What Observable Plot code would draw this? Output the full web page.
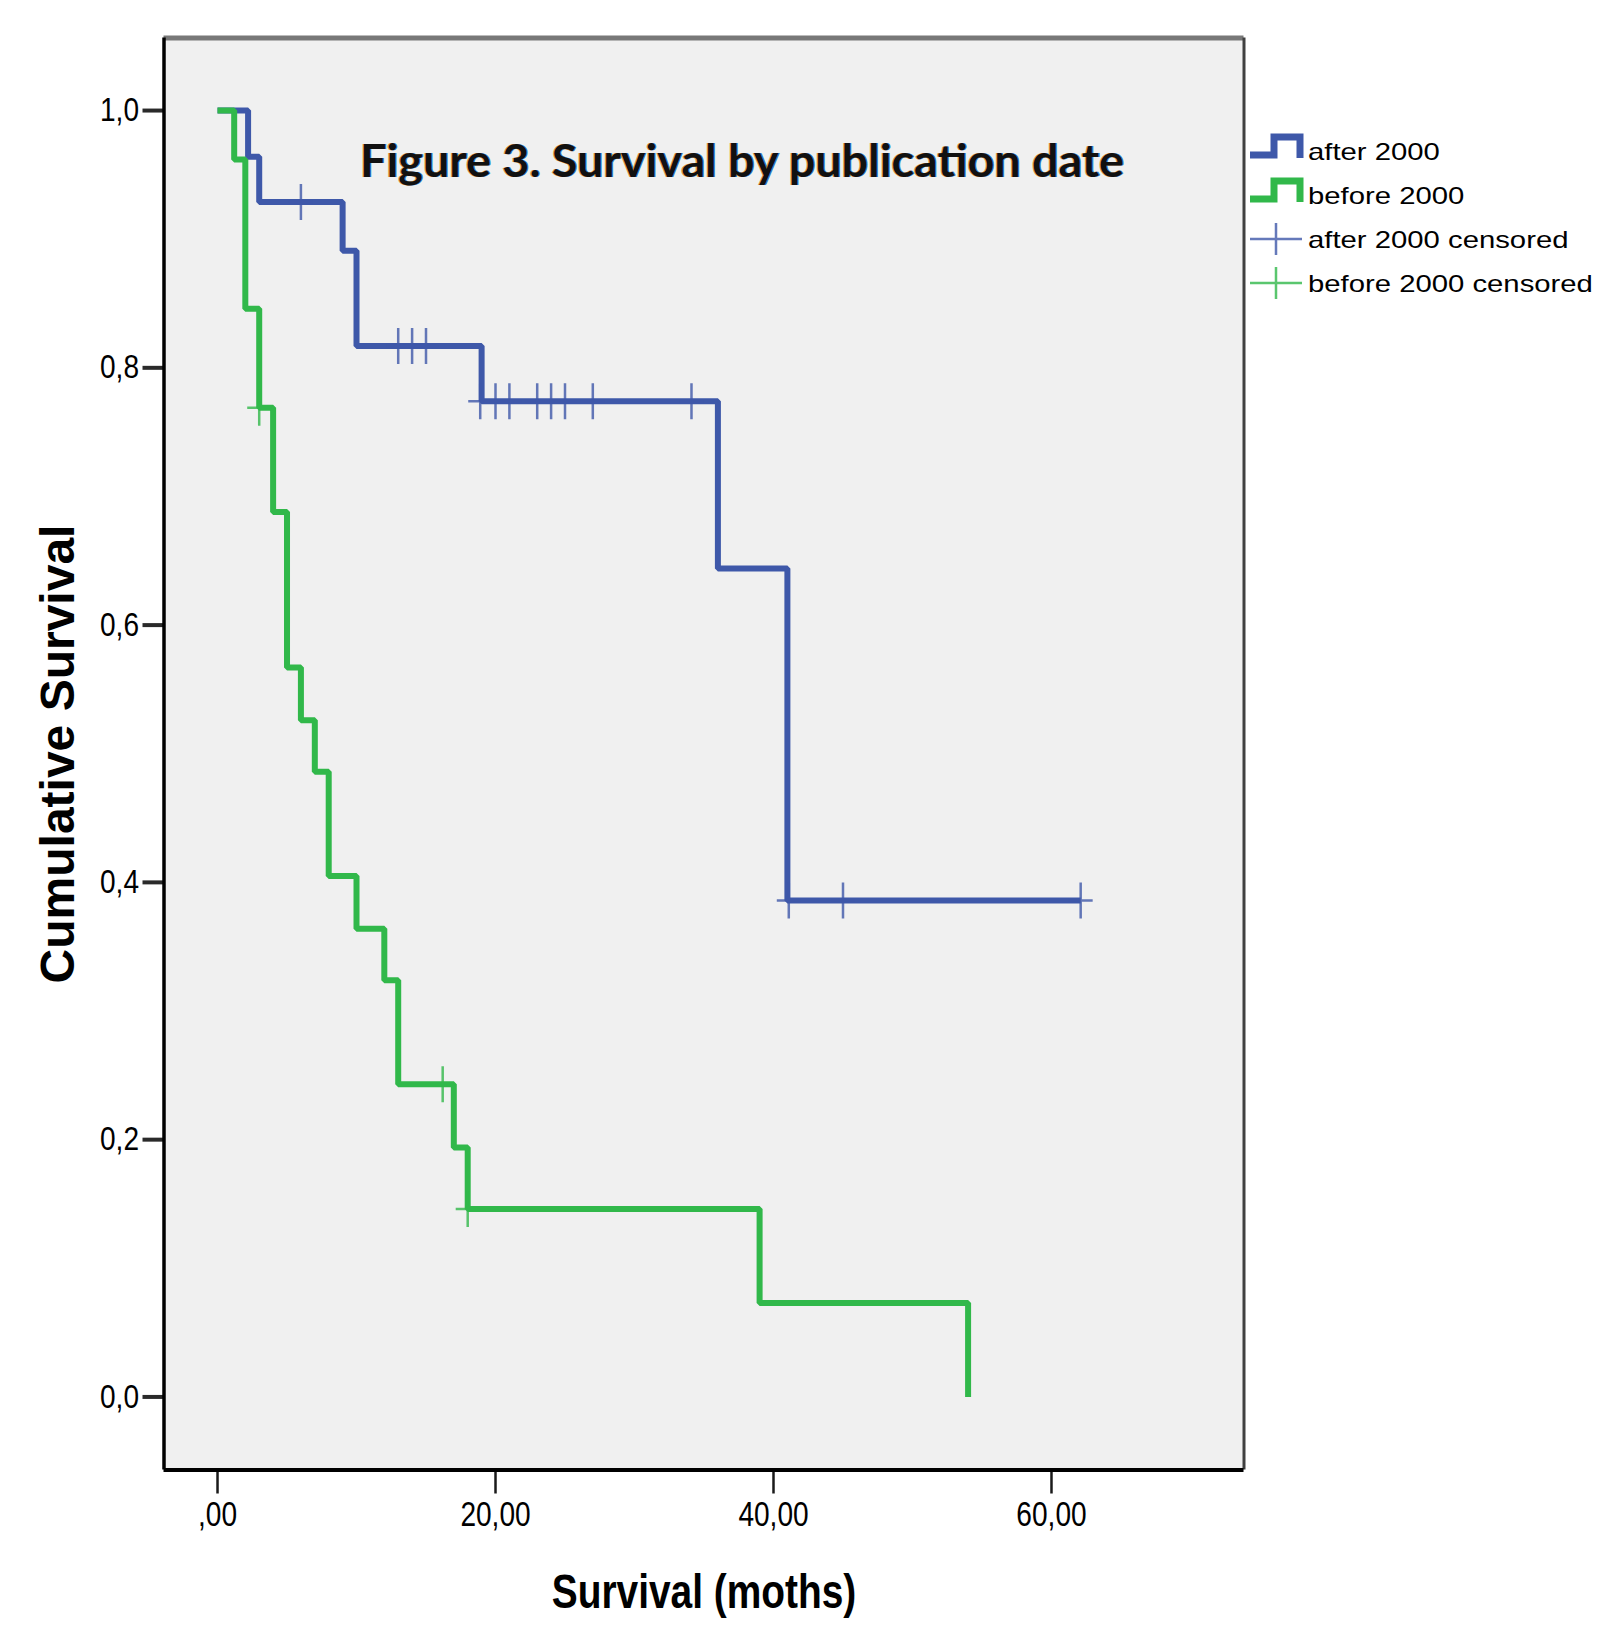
<!DOCTYPE html>
<html>
<head>
<meta charset="utf-8">
<script src="https://cdn.jsdelivr.net/npm/d3@7"></script>
<script src="https://cdn.jsdelivr.net/npm/@observablehq/plot@0.6"></script>
<style>
  html, body { margin: 0; padding: 0; background: #ffffff; }
  #wrap { position: relative; width: 1609px; height: 1628px; overflow: hidden; }
  #chart svg { display: block; }
  #chart g[aria-label="y-axis label"] text { font-family: "Liberation Sans", Arial, sans-serif; font-weight: bold; font-size: 48px; }
  #chart g[aria-label="x-axis label"] text { font-family: "Liberation Sans", Arial, sans-serif; font-weight: bold; font-size: 48px; }
  #title { position: absolute; left: 360px; top: 132px; font-family: Lato, "Open Sans", sans-serif; font-weight: 700; font-size: 46px; color: #111; white-space: nowrap; transform-origin: 0 0; text-shadow: -1px 0 #e39b4c, 1px 0 #2f7fc8; }
  #legend { position: absolute; left: 1250px; top: 130px; font-family: "Liberation Sans", Arial, sans-serif; font-size: 24px; color: #000; }
  .lrow { position: relative; height: 44px; white-space: nowrap; }
  .lrow svg { position: absolute; left: 0; top: 0; }
  .lrow span { position: absolute; left: 58px; top: 8px; display: inline-block; transform: scaleX(1.22); transform-origin: 0 0; }
</style>
</head>
<body>
<div id="wrap">
  <div id="chart"></div>
  <div id="title"></div>
  <div id="legend"></div>
</div>
<script>
// ---- data ----
const groups = ["after 2000", "before 2000"];
const groupColors = ["#3e58a9", "#31b84a"];

// after 2000: step curve (time in months, cumulative survival)
const afterTimes = [0, 2.2, 3, 9, 10, 19, 36, 41, 62.1];
const afterSurv  = [1, 0.964, 0.929, 0.891, 0.817, 0.774, 0.644, 0.386, 0.386];
// after 2000: censored observations
const afterCensTimes = [6, 13, 14, 15, 18.9, 20, 21, 23, 24, 25, 27, 34.1, 41.1, 45, 62.1];
const afterCensSurv  = [0.929, 0.817, 0.817, 0.817, 0.774, 0.774, 0.774, 0.774, 0.774, 0.774, 0.774, 0.774, 0.386, 0.386, 0.386];

// before 2000: step curve
const beforeTimes = [0, 1.2, 2, 3, 4, 5, 6, 7, 8, 10, 12, 13, 17, 18, 39, 54];
const beforeSurv  = [1, 0.962, 0.846, 0.769, 0.688, 0.567, 0.526, 0.486, 0.405, 0.364, 0.324, 0.243, 0.194, 0.146, 0.073, 0];
// before 2000: censored observations
const beforeCensTimes = [3, 16.2, 18];
const beforeCensSurv  = [0.769, 0.243, 0.146];

// axes
const xDomain = [-3.85, 73.85];
const yDomain = [-0.0568, 1.0564];
const xTicks = [0, 20, 40, 60];
const xTickLabels = [",00", "20,00", "40,00", "60,00"];
const yTicks = [0, 0.2, 0.4, 0.6, 0.8, 1.0];
const yTickLabels = ["0,0", "0,2", "0,4", "0,6", "0,8", "1,0"];

const titleText = "Figure 3. Survival by publication date";
const xLabel = "Survival (moths)";
const yLabel = "Cumulative Survival";
const legendLabels = ["after 2000", "before 2000", "after 2000 censored", "before 2000 censored"];

// ---- build tables ----
const afterCurve = afterTimes.map((t, i) => ({t, s: afterSurv[i], g: groups[0]}));
const beforeCurve = beforeTimes.map((t, i) => ({t, s: beforeSurv[i], g: groups[1]}));
const afterCens = afterCensTimes.map((t, i) => ({t, s: afterCensSurv[i], g: groups[0]}));
const beforeCens = beforeCensTimes.map((t, i) => ({t, s: beforeCensSurv[i], g: groups[1]}));

// thin "+" censor symbol
const plusSymbol = {
  draw(ctx) {
    ctx.moveTo(-12, 0); ctx.lineTo(12, 0);
    ctx.moveTo(0, -18); ctx.lineTo(0, 18);
  }
};

const chart = Plot.plot({
  width: 1609,
  height: 1628,
  marginLeft: 163.5,
  marginRight: 365.5,
  marginTop: 37.5,
  marginBottom: 158.5,
  x: {domain: xDomain},
  y: {domain: yDomain},
  style: {fontFamily: '"Liberation Sans", Arial, sans-serif', background: "#ffffff", color: "#000", overflow: "visible"},
  marks: [
    Plot.frame({fill: "#f0f0f0", stroke: "none"}),
    Plot.ruleY([yDomain[1]], {stroke: "#787878", strokeWidth: 5}),
    Plot.ruleX([xDomain[1]], {stroke: "#404040", strokeWidth: 3}),
    Plot.axisY({
      ticks: yTicks, tickFormat: d => yTickLabels[yTicks.indexOf(d)],
      tickSize: 21, tickPadding: 4, fontSize: 33, stroke: "#2a2a2a", strokeWidth: 4,
      label: yLabel, labelAnchor: "center", labelOffset: 124, labelArrow: "none"
    }),
    Plot.axisX({
      ticks: xTicks, tickFormat: d => xTickLabels[xTicks.indexOf(d)],
      tickSize: 24, tickPadding: 6, fontSize: 36, stroke: "#1a1a1a", strokeWidth: 2.5,
      label: xLabel, labelAnchor: "center", labelOffset: 138, labelArrow: "none"
    }),
    Plot.line(afterCurve, {x: "t", y: "s", stroke: groupColors[0], strokeWidth: 6, curve: "step-after", strokeLinejoin: "miter", strokeLinecap: "butt"}),
    Plot.dot(afterCens, {x: "t", y: "s", symbol: plusSymbol, r: 5, stroke: groupColors[0], strokeWidth: 2.5, strokeOpacity: 0.8, fill: "none"}),
    Plot.line(beforeCurve, {x: "t", y: "s", stroke: groupColors[1], strokeWidth: 6, curve: "step-after", strokeLinejoin: "miter", strokeLinecap: "butt"}),
    Plot.dot(beforeCens, {x: "t", y: "s", symbol: plusSymbol, r: 5, stroke: groupColors[1], strokeWidth: 2.5, strokeOpacity: 0.8, fill: "none"}),
    Plot.ruleX([xDomain[0]], {stroke: "#000", strokeWidth: 3.5}),
    Plot.ruleY([yDomain[0]], {stroke: "#000", strokeWidth: 4})
  ]
});
document.getElementById("chart").appendChild(chart);

// condense text horizontally (the reference uses a narrow face);
// numeric x/y are moved into the transform, em-based offsets are left as they are
function condense(selector, sx) {
  chart.querySelectorAll(selector).forEach(t => {
    let pre = "";
    const x = t.getAttribute("x"), y = t.getAttribute("y");
    const isNum = v => v !== null && v !== "" && !isNaN(+v);
    if (isNum(x) || isNum(y)) {
      pre = `translate(${isNum(x) ? +x : 0},${isNum(y) ? +y : 0}) `;
      if (isNum(x)) t.removeAttribute("x");
      if (isNum(y)) t.removeAttribute("y");
    }
    const tr = t.getAttribute("transform") || "";
    t.setAttribute("transform", pre + tr + ` scale(${sx},1)`);
  });
}
condense('g[aria-label="x-axis tick label"] text', 0.78);
condense('g[aria-label="y-axis tick label"] text', 0.85);
condense('g[aria-label="x-axis label"] text', 0.81);

// title fitted to the reference width
const title = document.getElementById("title");
title.textContent = titleText;
const tw = title.getBoundingClientRect().width;
title.style.transform = `scaleX(${764 / tw})`;

// legend
const legend = document.getElementById("legend");
const stepIcon = c => `<svg width="56" height="44"><path d="M0,25 H24 V7 H50 V28" fill="none" stroke="${c}" stroke-width="7" stroke-linejoin="miter"/></svg>`;
const plusIcon = c => `<svg width="56" height="44"><path d="M0,21 H52 M26,5 V37" fill="none" stroke="${c}" stroke-width="2.5" stroke-opacity="0.8"/></svg>`;
const icons = [stepIcon(groupColors[0]), stepIcon(groupColors[1]), plusIcon(groupColors[0]), plusIcon(groupColors[1])];
legendLabels.forEach((lab, i) => {
  const row = document.createElement("div");
  row.className = "lrow";
  row.innerHTML = icons[i] + `<span>${lab}</span>`;
  legend.appendChild(row);
});
</script>
</body>
</html>
